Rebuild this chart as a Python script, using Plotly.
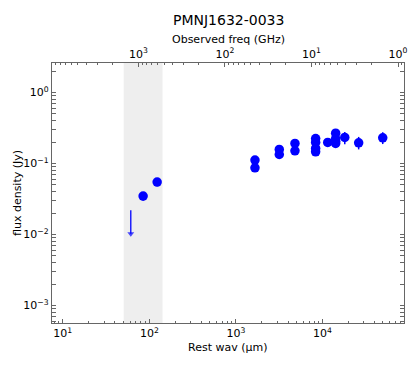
import numpy as np
import plotly.graph_objects as go

# ---- data ----
rest_wav_um = [84.7, 123, 1660, 1660, 3170, 3170, 4810, 4810, 8340, 8340, 8340, 8340,
               11500, 14200, 14200, 14200, 14200, 18100, 26200, 49700]
flux_jy = [0.0348, 0.0548, 0.112, 0.087, 0.158, 0.134, 0.192, 0.151, 0.225, 0.198, 0.163, 0.146,
           0.198, 0.268, 0.225, 0.206, 0.192, 0.233, 0.196, 0.230]
err_plus = [0.005, 0.007, 0.008, 0.008, 0.010, 0.009, 0.012, 0.010, 0.013, 0.012, 0.010, 0.009,
            0.012, 0.016, 0.014, 0.013, 0.012, 0.046, 0.041, 0.046]
err_minus = [0.005, 0.007, 0.008, 0.010, 0.010, 0.009, 0.012, 0.010, 0.013, 0.012, 0.010, 0.009,
             0.012, 0.016, 0.014, 0.013, 0.012, 0.046, 0.038, 0.042]

ul_wav_um = [61.0]
ul_flux_jy = [0.022]
ul_arrow_end_jy = [0.0102]

band_um = [50.5, 142.0]   # shaded rest-frame band

one_plus_z = 4.02
x_range_um = [7.5, 87500]
y_range_jy = [5.65e-4, 2.61]

x_tickvals = [10, 100, 1000, 10000]
x_ticktext = ["10<sup>1</sup>", "10<sup>2</sup>", "10<sup>3</sup>", "10<sup>4</sup>"]
y_tickvals = [1e-3, 1e-2, 1e-1, 1]
y_ticktext = ["10<sup>\u22123</sup>", "10<sup>\u22122</sup>", "10<sup>\u22121</sup>", "10<sup>0</sup>"]
top_tickvals = [1000, 100, 10, 1]
top_ticktext = ["10<sup>3</sup>", "10<sup>2</sup>", "10<sup>1</sup>", "10<sup>0</sup>"]

BLUE = "#0000ff"
SPINE = "#666666"
FONT = "DejaVu Sans"
W, H = 415, 365
ML, MR, MT, MB = 52, 11, 63, 42
PW, PH = W - ML - MR, H - MT - MB

def minor_vals(lo, hi):
    out = []
    for k in range(lo, hi):
        for m in range(2, 10):
            out.append(m * 10.0 ** k)
    return out

def px_x(px):
    return (px - ML) / PW

def px_y(px):
    return (H - MB - px) / PH

fig = go.Figure()

# shaded band (filled trace spanning the full y range)
fig.add_trace(go.Scatter(
    x=[band_um[0], band_um[1], band_um[1], band_um[0], band_um[0]],
    y=[y_range_jy[0], y_range_jy[0], y_range_jy[1], y_range_jy[1], y_range_jy[0]],
    mode="lines", fill="toself", fillcolor="#eeeeee", line=dict(width=0),
    showlegend=False, hoverinfo="skip"))

fig.add_trace(go.Scatter(
    x=rest_wav_um, y=flux_jy, mode="markers",
    marker=dict(color=BLUE, size=9.5, line=dict(width=0)),
    error_y=dict(type="data", array=err_plus, arrayminus=err_minus,
                 color=BLUE, thickness=1.5, width=0),
    showlegend=False, hoverinfo="skip"))

# upper limit arrow
for xw, y0, y1 in zip(ul_wav_um, ul_flux_jy, ul_arrow_end_jy):
    fig.add_trace(go.Scatter(
        x=[xw, xw], y=[y0, y1], mode="lines+markers",
        line=dict(color=BLUE, width=1.3),
        marker=dict(symbol=["circle", "triangle-down"], size=[0, 6], color=BLUE,
                    line=dict(width=0)),
        showlegend=False, hoverinfo="skip"))

# invisible trace to attach the top axis
top_freq = [3e5 / (w * one_plus_z) for w in x_range_um]
fig.add_trace(go.Scatter(x=top_freq, y=[1, 1], xaxis="x2", mode="markers",
                         marker=dict(opacity=0), showlegend=False, hoverinfo="skip"))

tickfont = dict(family=FONT, size=11, color="black")

def axis_common():
    return dict(ticks="inside", ticklen=4, tickcolor=SPINE, tickwidth=1,
                showline=True, linecolor=SPINE, linewidth=1.2,
                showgrid=False, zeroline=False, tickfont=tickfont, automargin=False)

fig.update_layout(
    width=W, height=H,
    margin=dict(l=ML, r=MR, t=MT, b=MB),
    paper_bgcolor="white", plot_bgcolor="white",
    font=dict(family=FONT, color="black"),
    xaxis=dict(type="log", range=[np.log10(x_range_um[0]), np.log10(x_range_um[1])],
               tickmode="array", tickvals=x_tickvals, ticktext=x_ticktext,
               minor=dict(tickmode="array", tickvals=minor_vals(0, 5), ticks="inside",
                          ticklen=2, tickcolor=SPINE, showgrid=False),
               mirror=False, **axis_common()),
    xaxis2=dict(type="log", overlaying="x", side="top", anchor="y",
                range=[np.log10(top_freq[0]), np.log10(top_freq[1])],
                tickmode="array", tickvals=top_tickvals, ticktext=top_ticktext,
                minor=dict(tickmode="array", tickvals=minor_vals(-1, 4), ticks="inside",
                           ticklen=2, tickcolor=SPINE, showgrid=False),
                **axis_common()),
    yaxis=dict(type="log", range=[np.log10(y_range_jy[0]), np.log10(y_range_jy[1])],
               tickmode="array", tickvals=y_tickvals, ticktext=y_ticktext,
               minor=dict(tickmode="array", tickvals=minor_vals(-4, 1), ticks="inside",
                          ticklen=2, tickcolor=SPINE, showgrid=False),
               mirror="allticks", **axis_common()),
)

fig.add_annotation(text="PMNJ1632-0033", xref="paper", yref="paper",
                   x=px_x(228), y=px_y(20), xanchor="center", yanchor="middle", showarrow=False,
                   font=dict(family=FONT, size=14, color="black"))
fig.add_annotation(text="Observed freq (GHz)", xref="paper", yref="paper",
                   x=px_x(228), y=px_y(39), xanchor="center", yanchor="middle", showarrow=False,
                   font=dict(family=FONT, size=11, color="black"))
fig.add_annotation(text="Rest wav (\u03bcm)", xref="paper", yref="paper",
                   x=px_x(228), y=px_y(347), xanchor="center", yanchor="middle", showarrow=False,
                   font=dict(family=FONT, size=11, color="black"))
fig.add_annotation(text="flux density (Jy)", xref="paper", yref="paper",
                   x=px_x(17), y=px_y(193), xanchor="center", yanchor="middle",
                   textangle=-90, showarrow=False,
                   font=dict(family=FONT, size=11, color="black"))

fig.write_html("out.html", config={"displayModeBar": False},
               post_script="document.body.style.margin='0px';document.body.style.padding='0px';")
